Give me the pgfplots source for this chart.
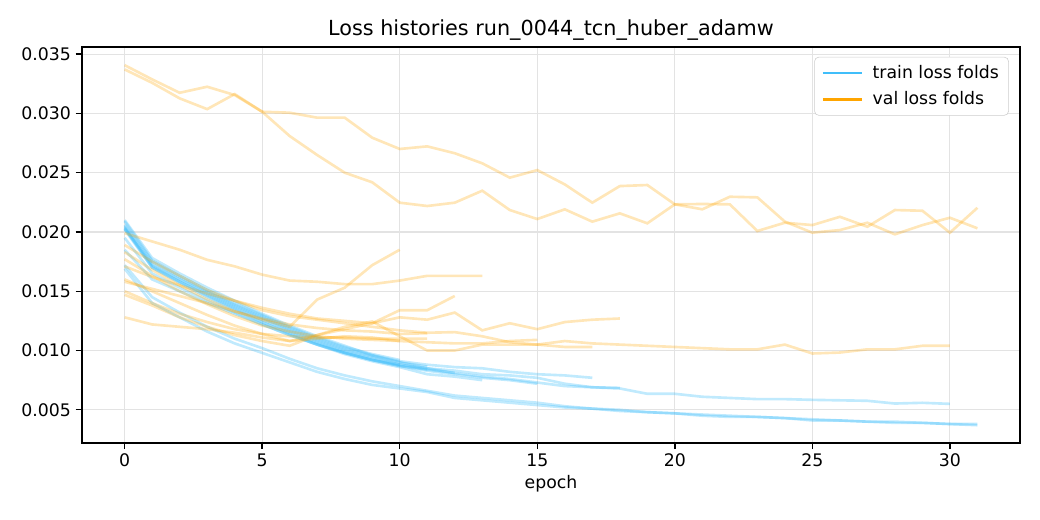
\documentclass[border=0pt]{standalone}
\usepackage{fontspec}
\setmainfont{DejaVu Sans}
\usepackage{pgfplots}
\pgfplotsset{compat=1.18}
\definecolor{trainc}{RGB}{64,190,250}
\definecolor{valc}{RGB}{255,165,0}
\begin{document}
\begin{tikzpicture}
\useasboundingbox (0,0) rectangle (748.8bp,374.4bp);
\begin{axis}[
  at={(59.04bp,55.44bp)}, anchor=south west,
  scale only axis, width=675.4bp, height=285.1bp,
  xmin=-1.55, xmax=32.55, ymin=0.0022, ymax=0.0356,
  xtick={0,5,10,15,20,25,30},
  ytick={0.005,0.010,0.015,0.020,0.025,0.030,0.035},
  yticklabel style={/pgf/number format/.cd, fixed, fixed zerofill, precision=3},
  scaled y ticks=false,
  /pgf/number format/assume math mode=true,
  tick label style={font=\fontsize{12.5}{15}\selectfont},
  grid=major, major grid style={black!11, line width=0.8bp},
  tick align=outside, major tick length=4.5bp, tick style={black, line width=1bp},
  xtick pos=lower, ytick pos=left,
  axis line style={line width=1bp},
  title={Loss histories run\_0044\_tcn\_huber\_adamw},
  title style={font=\fontsize{15}{18}\selectfont, yshift=-4.5bp},
  xlabel={epoch}, xlabel style={font=\fontsize{12.5}{15}\selectfont, yshift=1bp},
  legend style={at={(0.988,0.975)}, anchor=north east, draw=black!20, rounded corners=3pt, font=\fontsize{12.5}{15}\selectfont, inner xsep=5pt, inner ysep=4pt, row sep=4pt},
  legend cell align=left,
  legend image code/.code={\draw[#1] (0bp,0bp) -- (28bp,0bp);},
  tr/.style={trainc, opacity=0.33, line width=1.9bp, forget plot},
  va/.style={valc, opacity=0.28, line width=1.9bp, forget plot},
]
\addlegendimage{trainc, line width=1.9bp}
\addlegendentry{\hspace{5bp}train loss folds}
\addlegendimage{valc, line width=1.9bp}
\addlegendentry{\hspace{5bp}val loss folds}

% ---- train loss folds ----
\addplot[tr] coordinates {(0,0.0172)(1,0.0145)(2,0.0132)(3,0.0120)(4,0.0110)(5,0.0102)(6,0.0093)(7,0.0085)(8,0.0079)(9,0.0074)(10,0.0070)(11,0.0066)(12,0.0062)(13,0.0060)(14,0.0058)(15,0.0056)(16,0.0053)(17,0.0051)(18,0.0050)(19,0.0048)(20,0.0047)(21,0.0046)(22,0.0045)(23,0.0044)(24,0.0043)(25,0.0042)(26,0.0041)(27,0.0040)(28,0.0039)(29,0.0039)(30,0.0038)(31,0.0037)};
\addplot[tr] coordinates {(0,0.0169)(1,0.0140)(2,0.0128)(3,0.0116)(4,0.0106)(5,0.0098)(6,0.0090)(7,0.0082)(8,0.0076)(9,0.0071)(10,0.0068)(11,0.0065)(12,0.0060)(13,0.0058)(14,0.0056)(15,0.0054)(16,0.0052)(17,0.0051)(18,0.0049)(19,0.0048)(20,0.0047)(21,0.0045)(22,0.0044)(23,0.0044)(24,0.0043)(25,0.0041)(26,0.0041)(27,0.0040)(28,0.0040)(29,0.0039)(30,0.0038)(31,0.0038)};
\addplot[tr] coordinates {(0,0.0205)(1,0.0173)(2,0.0160)(3,0.0148)(4,0.0137)(5,0.0127)(6,0.0117)(7,0.0108)(8,0.0100)(9,0.0094)(10,0.0088)(11,0.0084)(12,0.0081)(13,0.0078)(14,0.0076)(15,0.0073)(16,0.0070)(17,0.0069)(18,0.0068)(19,0.00635)(20,0.00635)(21,0.0061)(22,0.0060)(23,0.0059)(24,0.0059)(25,0.00584)(26,0.0058)(27,0.00576)(28,0.00553)(29,0.00559)(30,0.0055)};
\addplot[tr] coordinates {(0,0.0203)(1,0.0170)(2,0.0158)(3,0.0147)(4,0.0136)(5,0.0126)(6,0.0116)(7,0.0107)(8,0.0099)(9,0.0093)(10,0.0088)(11,0.0085)(12,0.0083)(13,0.0080)(14,0.0079)(15,0.0077)(16,0.0072)(17,0.0069)(18,0.00685)};
\addplot[tr] coordinates {(0,0.0210)(1,0.0178)(2,0.0165)(3,0.0153)(4,0.0142)(5,0.0131)(6,0.0121)(7,0.0112)(8,0.0104)(9,0.0096)(10,0.0091)(11,0.0088)(12,0.0086)(13,0.0085)(14,0.0082)(15,0.0080)(16,0.0079)(17,0.0077)};
\addplot[tr] coordinates {(0,0.0204)(1,0.0171)(2,0.0158)(3,0.0146)(4,0.0135)(5,0.0124)(6,0.0114)(7,0.0105)(8,0.0097)(9,0.0091)(10,0.0086)(11,0.0080)(12,0.0078)(13,0.0075)};
\addplot[tr] coordinates {(0,0.0206)(1,0.0175)(2,0.0162)(3,0.0150)(4,0.0139)(5,0.0129)(6,0.0119)(7,0.0110)(8,0.0102)(9,0.0096)(10,0.0090)(11,0.0085)(12,0.0081)};
\addplot[tr] coordinates {(0,0.0203)(1,0.0172)(2,0.0160)(3,0.0149)(4,0.0138)(5,0.0128)(6,0.0118)(7,0.0109)(8,0.0101)(9,0.0095)(10,0.0090)(11,0.00865)};
\addplot[tr] coordinates {(0,0.0195)(1,0.0165)(2,0.0153)(3,0.0142)(4,0.0132)(5,0.0122)(6,0.0113)(7,0.0105)(8,0.0098)(9,0.0092)(10,0.0087)(11,0.0084)};
\addplot[tr] coordinates {(0,0.0202)(1,0.0170)(2,0.0157)(3,0.0145)(4,0.0134)(5,0.0124)(6,0.0115)(7,0.0106)(8,0.0098)(9,0.0092)(10,0.0087)(11,0.0083)(12,0.0080)(13,0.0077)(14,0.0075)(15,0.0072)};
\addplot[tr] coordinates {(0,0.0209)(1,0.0176)(2,0.0163)(3,0.0151)(4,0.0140)(5,0.0130)(6,0.0120)(7,0.0111)(8,0.0103)(9,0.0097)(10,0.0092)};
\addplot[tr] coordinates {(0,0.0185)(1,0.0160)(2,0.0150)(3,0.0140)(4,0.0131)(5,0.0122)(6,0.0113)(7,0.0105)(8,0.0098)(9,0.0092)(10,0.0088)};

% ---- val loss folds ----
\addplot[va] coordinates {(0,0.03407)(1,0.03287)(2,0.03174)(3,0.03225)(4,0.03155)(5,0.03014)(6,0.03006)(7,0.02964)(8,0.02964)(9,0.02795)(10,0.02700)(11,0.02722)(12,0.02664)(13,0.02579)(14,0.02458)(15,0.02522)(16,0.02401)(17,0.02247)(18,0.02387)(19,0.02396)(20,0.02233)(21,0.02191)(22,0.02297)(23,0.02292)(24,0.02087)(25,0.01994)(26,0.02016)(27,0.02078)(28,0.01980)(29,0.02058)(30,0.02120)(31,0.02031)};
\addplot[va] coordinates {(0,0.03371)(1,0.03258)(2,0.03127)(3,0.03036)(4,0.03163)(5,0.03014)(6,0.02809)(7,0.02649)(8,0.02500)(9,0.02419)(10,0.02247)(11,0.02219)(12,0.02247)(13,0.02348)(14,0.02185)(15,0.02109)(16,0.02191)(17,0.02087)(18,0.02157)(19,0.02073)(20,0.02233)(21,0.02236)(22,0.02233)(23,0.02008)(24,0.02078)(25,0.02058)(26,0.02128)(27,0.02044)(28,0.02185)(29,0.02179)(30,0.01994)(31,0.02204)};
\addplot[va] coordinates {(0,0.0147)(1,0.0138)(2,0.0128)(3,0.0120)(4,0.0113)(5,0.0108)(6,0.0104)(7,0.0113)(8,0.0120)(9,0.01245)(10,0.0112)(11,0.0100)(12,0.0100)(13,0.0105)(14,0.0105)(15,0.0105)(16,0.0108)(17,0.0106)(18,0.0105)(19,0.0104)(20,0.0103)(21,0.0102)(22,0.0101)(23,0.0101)(24,0.0105)(25,0.00975)(26,0.00983)(27,0.0101)(28,0.0101)(29,0.0104)(30,0.0104)};
\addplot[va] coordinates {(0,0.0160)(1,0.0150)(2,0.0140)(3,0.0130)(4,0.0121)(5,0.0114)(6,0.0108)(7,0.0113)(8,0.0118)(9,0.0123)(10,0.0128)(11,0.0126)(12,0.0132)(13,0.0117)(14,0.0123)(15,0.0118)(16,0.0124)(17,0.0126)(18,0.0127)};
\addplot[va] coordinates {(0,0.0189)(1,0.0175)(2,0.0163)(3,0.0151)(4,0.0142)(5,0.0134)(6,0.0129)(7,0.0126)(8,0.0123)(9,0.0120)(10,0.0117)(11,0.0115)(12,0.01155)(13,0.0112)(14,0.0107)(15,0.0105)(16,0.0103)(17,0.0103)};
\addplot[va] coordinates {(0,0.0199)(1,0.0192)(2,0.0185)(3,0.01765)(4,0.0171)(5,0.0164)(6,0.0159)(7,0.0158)(8,0.0156)(9,0.0156)(10,0.0159)(11,0.0163)(12,0.0163)(13,0.0163)};
\addplot[va] coordinates {(0,0.0171)(1,0.0162)(2,0.0155)(3,0.0148)(4,0.0142)(5,0.0136)(6,0.0131)(7,0.0127)(8,0.0125)(9,0.0123)(10,0.0134)(11,0.0134)(12,0.0146)};
\addplot[va] coordinates {(0,0.0158)(1,0.0152)(2,0.0146)(3,0.0140)(4,0.0133)(5,0.0127)(6,0.0122)(7,0.0119)(8,0.0117)(9,0.0116)(10,0.0114)(11,0.01146)};
\addplot[va] coordinates {(0,0.0150)(1,0.0140)(2,0.0131)(3,0.0124)(4,0.0118)(5,0.0114)(6,0.0112)(7,0.0111)(8,0.0111)(9,0.0110)(10,0.0110)(11,0.0110)};
\addplot[va] coordinates {(0,0.0128)(1,0.0122)(2,0.0120)(3,0.0118)(4,0.0115)(5,0.0111)(6,0.0108)(7,0.0110)(8,0.0112)(9,0.0111)(10,0.0108)(11,0.0107)(12,0.0106)(13,0.0106)(14,0.0108)(15,0.0109)};
\addplot[va] coordinates {(0,0.0183)(1,0.0168)(2,0.0155)(3,0.0143)(4,0.0133)(5,0.0126)(6,0.0120)(7,0.0143)(8,0.0153)(9,0.0172)(10,0.0185)};
\addplot[va] coordinates {(0,0.0177)(1,0.0163)(2,0.0150)(3,0.0139)(4,0.0129)(5,0.0121)(6,0.0116)(7,0.0112)(8,0.0110)(9,0.0109)(10,0.0108)};
\end{axis}
\end{tikzpicture}
\end{document}
